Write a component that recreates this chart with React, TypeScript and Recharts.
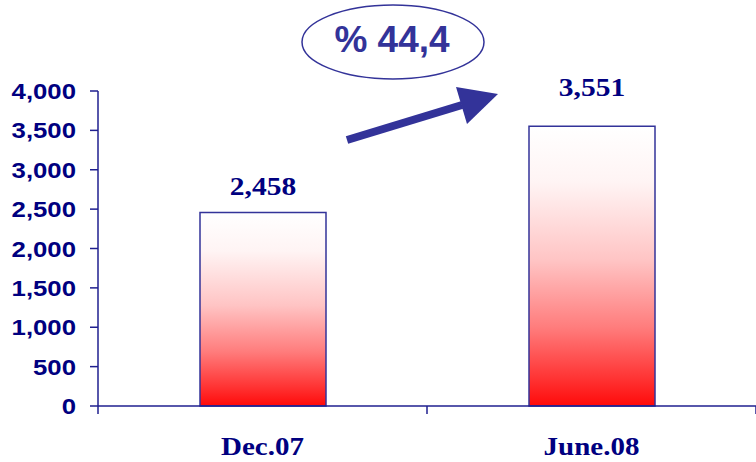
import React from "react";
import { BarChart, Bar, XAxis, YAxis, LabelList } from "recharts";

const categories = ["Dec.07", "June.08"];
const branchCounts = [2458, 3551];
const yTicks = [0, 500, 1000, 1500, 2000, 2500, 3000, 3500, 4000];
const growthLabel = "% 44,4";

const labelOffsets = [17, 30];

const data = categories.map((name, i) => ({ name, value: branchCounts[i] }));

const NAVY = "#000080";
const LINE = "#1f1f8f";
const ACCENT = "#333399";
const SANS = "Arial, 'Liberation Sans', sans-serif";
const SERIF = "'Liberation Serif', 'Times New Roman', serif";

const fmt = (v: number) => v.toLocaleString("en-US");

function YTick({ x, y, payload }: any) {
  return (
    <text
      transform={`translate(${x},${y}) scale(1.12,1)`}
      textAnchor="end"
      dy={8}
      fill={NAVY}
      style={{ fontFamily: SANS, fontWeight: 700, fontSize: 23 }}
    >
      {fmt(payload.value)}
    </text>
  );
}

function XTick({ x, y, payload }: any) {
  const half = payload.offset ?? 0;
  return (
    <g>
      {half > 0 && (
        <line x1={x + half} y1={y} x2={x + half} y2={y + 8} stroke={LINE} strokeWidth={1.5} />
      )}
      {half > 0 && payload.index === 0 && (
        <line x1={x - half} y1={y} x2={x - half} y2={y + 8} stroke={LINE} strokeWidth={1.5} />
      )}
      <text
        transform={`translate(${x},${y + 49}) scale(1.16,1)`}
        textAnchor="middle"
        fill={NAVY}
        style={{ fontFamily: SERIF, fontWeight: 700, fontSize: 25 }}
      >
        {payload.value}
      </text>
    </g>
  );
}

function BarValue(props: any) {
  const { x, y, width, value, index } = props;
  const cx = x + width / 2;
  return (
    <text
      transform={`translate(${cx},${y - labelOffsets[index]}) scale(1.18,1)`}
      textAnchor="middle"
      fill={NAVY}
      style={{ fontFamily: SERIF, fontWeight: 700, fontSize: 25 }}
    >
      {fmt(value)}
    </text>
  );
}

export default function App() {
  return (
    <div style={{ position: "absolute", left: 0, top: 0, width: 756, height: 462, background: "#fff" }}>
      <BarChart
        width={756}
        height={462}
        data={data}
        margin={{ top: 91, right: 0, left: 0, bottom: 0 }}
      >
        <defs>
          <linearGradient id="barFill" x1="0" y1="0" x2="0" y2="1">
            <stop offset="0%" stopColor="#ffffff" />
            <stop offset="20%" stopColor="#fff4f4" />
            <stop offset="48%" stopColor="#ffc4c4" />
            <stop offset="72%" stopColor="#ff7c7c" />
            <stop offset="90%" stopColor="#ff3434" />
            <stop offset="100%" stopColor="#ff0a0a" />
          </linearGradient>
        </defs>
        <XAxis
          dataKey="name"
          height={56}
          tickLine={false}
          tickSize={0}
          tickMargin={0}
          axisLine={{ stroke: LINE, strokeWidth: 1.5 }}
          tick={<XTick />}
        />
        <YAxis
          domain={[0, 4000]}
          ticks={yTicks}
          width={98}
          tickSize={8}
          tickMargin={14}
          axisLine={{ stroke: LINE, strokeWidth: 1.5 }}
          tickLine={{ stroke: LINE, strokeWidth: 1.5 }}
          tick={<YTick />}
          interval={0}
        />
        <Bar
          dataKey="value"
          barSize={126}
          fill="url(#barFill)"
          stroke={ACCENT}
          strokeWidth={1.5}
          isAnimationActive={false}
        >
          <LabelList dataKey="value" content={<BarValue />} />
        </Bar>
      </BarChart>
      <svg
        width={756}
        height={462}
        style={{ position: "absolute", left: 0, top: 0, pointerEvents: "none" }}
      >
        <ellipse cx={393} cy={42} rx={91} ry={37} fill="none" stroke={ACCENT} strokeWidth={1.5} />
        <text
          x={392}
          y={52}
          textAnchor="middle"
          fill={ACCENT}
          style={{ fontFamily: SANS, fontWeight: 700, fontSize: 37 }}
        >
          {growthLabel}
        </text>
        <line x1={347} y1={140} x2={462} y2={105} stroke={ACCENT} strokeWidth={8} />
        <polygon points="498,94 456,87 467,124" fill={ACCENT} />
      </svg>
    </div>
  );
}
